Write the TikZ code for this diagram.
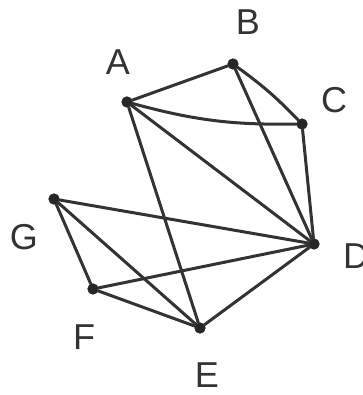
\documentclass[tikz,border=0pt]{standalone}
\usepackage{fontspec}
\setmainfont{Liberation Sans}
\begin{document}
\begin{tikzpicture}[x=1pt,y=-1pt,
  vtx/.style={circle,draw=black!85,fill=black!85,line width=1.2pt,inner sep=0pt,minimum size=10pt},
  edge/.style={draw=black!80,line width=3pt,line cap=round},
  lbl/.style={font=\fontsize{36}{38}\selectfont,text=black!80,inner sep=0pt}]
\useasboundingbox (0,0) rectangle (362,395);
\fill[white] (0,0) rectangle (362,395);
\node[vtx] (A) at (127,102) {};
\node[vtx] (B) at (233,64) {};
\node[vtx] (C) at (302,124) {};
\node[vtx] (D) at (314,244) {};
\node[vtx] (E) at (200,328) {};
\node[vtx] (F) at (93,289) {};
\node[vtx] (G) at (54,199) {};
\node[lbl] (lA) at (118,62) {A};
\node[lbl] (lB) at (248,22) {B};
\node[lbl] (lC) at (334,100) {C};
\node[lbl,anchor=west] (lD) at (343,256) {D};
\node[lbl] (lE) at (207,375) {E};
\node[lbl] (lF) at (84,337) {F};
\node[lbl] (lG) at (24,237) {G};
\draw[edge] (A) -- (B);
\draw[edge] (A) to[bend right=8] (C);
\draw[edge] (A) -- (D);
\draw[edge] (A) -- (E);
\draw[edge] (B) to[bend left=5] (C);
\draw[edge] (B) -- (D);
\draw[edge] (C) -- (D);
\draw[edge] (G) -- (D);
\draw[edge] (G) -- (F);
\draw[edge] (G) -- (E);
\draw[edge] (F) -- (D);
\draw[edge] (F) -- (E);
\draw[edge] (E) -- (D);
\end{tikzpicture}
\end{document}
